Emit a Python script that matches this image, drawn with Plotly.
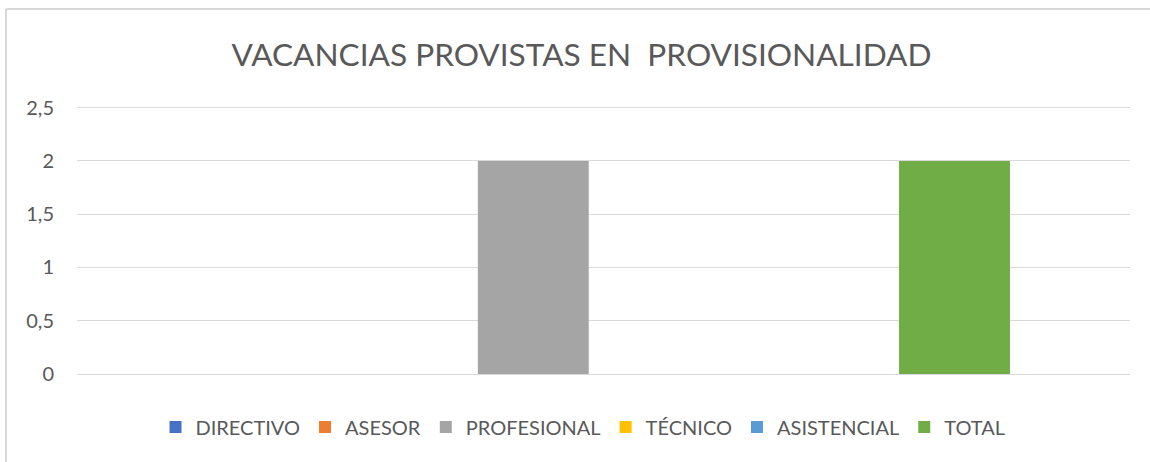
import plotly.graph_objects as go

series_names = ["DIRECTIVO", "ASESOR", "PROFESIONAL", "TÉCNICO", "ASISTENCIAL", "TOTAL"]
series_values = [0, 0, 2, 0, 0, 2]
series_colors = ["#4472C4", "#ED7D31", "#A5A5A5", "#FFC000", "#5B9BD5", "#70AD47"]
category = ["VACANCIAS"]
y_ticks = [0, 0.5, 1, 1.5, 2, 2.5]

W, H = 1150, 462
ml, mr, mt, mb = 77, 20, 106, 88
pw = W - ml - mr
ph = H - mt - mb

def px_x(p):
    return (p - ml) / pw

def px_y(p):
    return (H - mb - p) / ph

FONT = "Lato"
GREY = "#595959"

fig = go.Figure()
for name, val, col in zip(series_names, series_values, series_colors):
    fig.add_trace(go.Bar(x=category, y=[val], name=name, marker=dict(color=col, line=dict(width=0))))

fig.update_layout(
    width=W, height=H,
    margin=dict(l=ml, r=mr, t=mt, b=mb, pad=0),
    paper_bgcolor="white", plot_bgcolor="white",
    barmode="group", bargap=0.2, bargroupgap=0.21,
    separators=",.",
    font=dict(family=FONT, color=GREY),
    title=dict(text="VACANCIAS PROVISTAS EN\u00a0 PROVISIONALIDAD",
               font=dict(family=FONT, size=31.6, color=GREY),
               x=581.5 / W, xref="container", xanchor="center",
               y=1 - 55 / H, yref="container", yanchor="middle"),
    showlegend=True,
    legend=dict(orientation="h", x=px_x(583), xanchor="center", y=px_y(427), yanchor="middle",
                font=dict(family=FONT, size=20, color=GREY), bgcolor="rgba(0,0,0,0)",
                traceorder="normal"),
    xaxis=dict(showticklabels=False, showgrid=False, showline=False, zeroline=False, ticks=""),
    yaxis=dict(range=[0, 2.515], tickvals=y_ticks, showgrid=True, gridcolor="#d9d9d9", gridwidth=1,
               zeroline=True, zerolinecolor="#d9d9d9", zerolinewidth=1, showline=False, ticks="",
               ticklabelstandoff=22, tickfont=dict(family=FONT, size=20, color=GREY)),
    shapes=[
        dict(type="line", xref="paper", yref="paper", x0=px_x(6), x1=px_x(1160), y0=px_y(9), y1=px_y(9),
             line=dict(color="#d9d9d9", width=2)),
        dict(type="line", xref="paper", yref="paper", x0=px_x(6), x1=px_x(6), y0=px_y(9), y1=px_y(470),
             line=dict(color="#d9d9d9", width=2)),
    ],
)

fig.write_html("out.html", config={"displayModeBar": False},
               post_script="document.body.style.margin='0';document.body.style.overflow='hidden';")
